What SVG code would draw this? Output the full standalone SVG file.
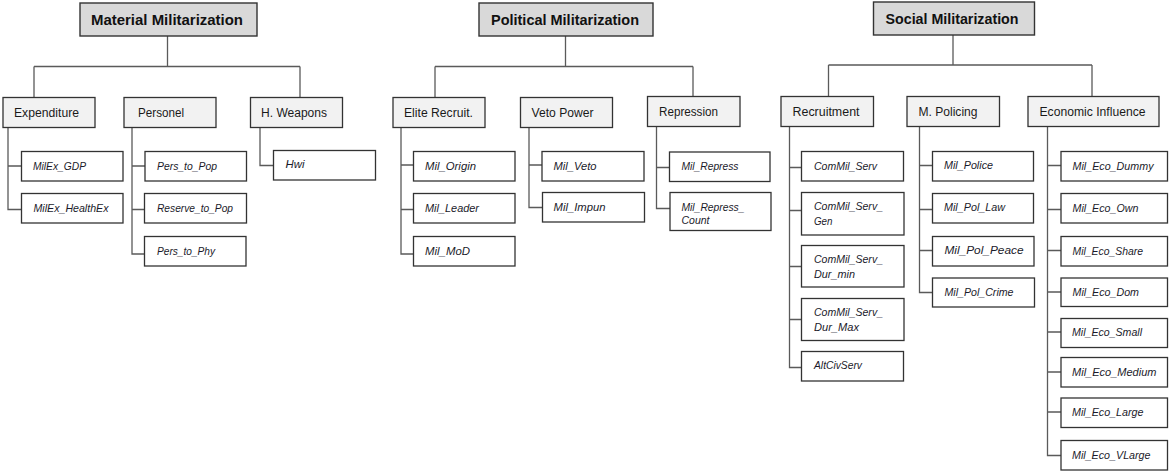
<svg xmlns="http://www.w3.org/2000/svg" width="1169" height="471" viewBox="0 0 1169 471">
<style>
.h rect{fill:#d9d9d9;stroke:#333;stroke-width:1.4}
.m rect{fill:#f2f2f2;stroke:#333;stroke-width:1.3}
.l rect{fill:#fff;stroke:#333;stroke-width:1.3}
.h text{font-family:"Liberation Sans",Arial,sans-serif;font-weight:bold;font-size:14.5px;fill:#111;text-anchor:middle}
.m text{font-family:"Liberation Sans",Arial,sans-serif;font-size:12.5px;fill:#1a1a1a}
.l text{font-family:"Liberation Sans",Arial,sans-serif;font-style:italic;font-size:10.5px;fill:#1a1a2a}
#connectors path{fill:none;stroke:#5a5a5a;stroke-width:1.3}
</style>
<rect width="1169" height="471" fill="#fff"/>
<g id="connectors">
<path d="M167.5 36V66.5M34 66.5H300M34 66.5V97.5M300 66.5V97.5"/>
<path d="M565.5 36V66.5M435 66.5H693M435 66.5V97.5M693 66.5V96.5"/>
<path d="M953 35V65M828.5 65H1092M828.5 65V96.5M1092 65V96.5"/>
<path d="M8 127.5V209.5H21.5M8 166H21.5"/>
<path d="M132 127.5V254H144.5M132 166H145M132 209.5H144.5"/>
<path d="M260 127.5V165.5H273.5"/>
<path d="M401 127.5V254H413.5M401 165H413.5M401 209.5H413.5"/>
<path d="M529 127.5V207.5H542.5M529 165H542"/>
<path d="M656.5 126.5V208.5H670M656.5 167.5H669.5"/>
<path d="M789.5 126.5V367.5H801.5M789.5 167.5H801.5M789.5 210.5H801.5M789.5 266.5H801.5M789.5 319.5H801.5"/>
<path d="M919.5 126.5V292.5H932.5M919.5 165.5H932.5M919.5 209.5H932.5M919.5 250.5H932.5"/>
<path d="M1047.5 126.5V455.5H1061M1047.5 165.5H1061M1047.5 209.5H1061M1047.5 250.5H1061M1047.5 292H1061M1047.5 332H1061M1047.5 372H1061M1047.5 412H1061"/>
</g>
<g id="material" class="h"><rect x="80" y="3" width="177" height="33"/><text x="167" y="25" textLength="152" lengthAdjust="spacingAndGlyphs">Material Militarization</text></g>
<g id="political" class="h"><rect x="479" y="3" width="174" height="33"/><text x="565" y="25" textLength="148" lengthAdjust="spacingAndGlyphs">Political Militarization</text></g>
<g id="social" class="h"><rect x="873.5" y="2" width="161" height="33"/><text x="952" y="24" textLength="133" lengthAdjust="spacingAndGlyphs">Social Militarization</text></g>

<g id="expenditure" class="m"><rect x="3" y="97.5" width="92" height="30"/><text x="14" y="117" textLength="65" lengthAdjust="spacingAndGlyphs">Expenditure</text></g>
<g id="personel" class="m"><rect x="124" y="97.5" width="92" height="30"/><text x="138" y="117" textLength="46" lengthAdjust="spacingAndGlyphs">Personel</text></g>
<g id="hweapons" class="m"><rect x="250.5" y="97.5" width="92" height="30"/><text x="261" y="117" textLength="66" lengthAdjust="spacingAndGlyphs">H. Weapons</text></g>
<g id="elite" class="m"><rect x="393" y="97.5" width="92" height="30"/><text x="404" y="117" textLength="69" lengthAdjust="spacingAndGlyphs">Elite Recruit.</text></g>
<g id="veto" class="m"><rect x="520.5" y="97.5" width="92" height="30"/><text x="531.5" y="117" textLength="62" lengthAdjust="spacingAndGlyphs">Veto Power</text></g>
<g id="repression" class="m"><rect x="647.5" y="96.5" width="92.5" height="30"/><text x="659" y="116" textLength="59" lengthAdjust="spacingAndGlyphs">Repression</text></g>
<g id="recruitment" class="m"><rect x="781" y="96.5" width="92.5" height="30"/><text x="792.5" y="116" textLength="67" lengthAdjust="spacingAndGlyphs">Recruitment</text></g>
<g id="policing" class="m"><rect x="907" y="96.5" width="92.5" height="30"/><text x="918.5" y="116" textLength="59" lengthAdjust="spacingAndGlyphs">M. Policing</text></g>
<g id="economic" class="m"><rect x="1028" y="96.5" width="131" height="30"/><text x="1039.5" y="116" textLength="106" lengthAdjust="spacingAndGlyphs">Economic Influence</text></g>

<g id="milex_gdp" class="l"><rect x="21.5" y="151.5" width="101.5" height="29.5"/><text x="33" y="169.5" textLength="53" lengthAdjust="spacingAndGlyphs">MilEx_GDP</text></g>
<g id="milex_healthex" class="l"><rect x="21.5" y="193.5" width="101.5" height="29.5"/><text x="33.5" y="211.5" textLength="75" lengthAdjust="spacingAndGlyphs">MilEx_HealthEx</text></g>
<g id="pers_to_pop" class="l"><rect x="145" y="151.5" width="101.5" height="29.5"/><text x="157" y="169.5" textLength="60" lengthAdjust="spacingAndGlyphs">Pers_to_Pop</text></g>
<g id="reserve_to_pop" class="l"><rect x="144.5" y="193.5" width="102" height="29.5"/><text x="157" y="211.5" textLength="76" lengthAdjust="spacingAndGlyphs">Reserve_to_Pop</text></g>
<g id="pers_to_phy" class="l"><rect x="144.5" y="236.5" width="101.5" height="29.5"/><text x="157" y="254.5" textLength="58" lengthAdjust="spacingAndGlyphs">Pers_to_Phy</text></g>
<g id="hwi" class="l"><rect x="273.5" y="150.5" width="102" height="29.5"/><text x="285.5" y="168" textLength="19" lengthAdjust="spacingAndGlyphs">Hwi</text></g>

<g id="mil_origin" class="l"><rect x="413.5" y="151.5" width="101.5" height="29.5"/><text x="425" y="169.5" textLength="51" lengthAdjust="spacingAndGlyphs">Mil_Origin</text></g>
<g id="mil_leader" class="l"><rect x="413.5" y="193.5" width="101.5" height="29.5"/><text x="425" y="211.5" textLength="54" lengthAdjust="spacingAndGlyphs">Mil_Leader</text></g>
<g id="mil_mod" class="l"><rect x="413.5" y="236.5" width="101.5" height="29.5"/><text x="425" y="254.5" textLength="45" lengthAdjust="spacingAndGlyphs">Mil_MoD</text></g>
<g id="mil_veto" class="l"><rect x="542" y="151.5" width="102" height="29.5"/><text x="553.5" y="169.5" textLength="43" lengthAdjust="spacingAndGlyphs">Mil_Veto</text></g>
<g id="mil_impun" class="l"><rect x="542.5" y="192.5" width="102" height="29.5"/><text x="553.5" y="211" textLength="52" lengthAdjust="spacingAndGlyphs">Mil_Impun</text></g>
<g id="mil_repress" class="l"><rect x="669.5" y="152" width="100.5" height="29.5"/><text x="681.5" y="169.5" textLength="57" lengthAdjust="spacingAndGlyphs">Mil_Repress</text></g>
<g id="mil_repress_count" class="l"><rect x="670" y="192.5" width="101" height="38"/><text x="681.5" y="210.5" textLength="63" lengthAdjust="spacingAndGlyphs">Mil_Repress_</text><text x="681.5" y="224" textLength="28" lengthAdjust="spacingAndGlyphs">Count</text></g>

<g id="commil_serv" class="l"><rect x="801.5" y="151.5" width="102" height="29.5"/><text x="814" y="169.5" textLength="63" lengthAdjust="spacingAndGlyphs">ComMil_Serv</text></g>
<g id="commil_serv_gen" class="l"><rect x="801.5" y="192.5" width="102.5" height="42.5"/><text x="814" y="210" textLength="69" lengthAdjust="spacingAndGlyphs">ComMil_Serv_</text><text x="814" y="224.5" textLength="18.5" lengthAdjust="spacingAndGlyphs">Gen</text></g>
<g id="commil_serv_dur_min" class="l"><rect x="801.5" y="245.5" width="102.5" height="41.5"/><text x="814" y="263" textLength="69" lengthAdjust="spacingAndGlyphs">ComMil_Serv_</text><text x="814" y="277.5" textLength="41" lengthAdjust="spacingAndGlyphs">Dur_min</text></g>
<g id="commil_serv_dur_max" class="l"><rect x="801.5" y="298.5" width="102.5" height="42"/><text x="814" y="316" textLength="69" lengthAdjust="spacingAndGlyphs">ComMil_Serv_</text><text x="814" y="330.5" textLength="45" lengthAdjust="spacingAndGlyphs">Dur_Max</text></g>
<g id="altcivserv" class="l"><rect x="801.5" y="351.5" width="102" height="29.5"/><text x="814" y="369" textLength="48" lengthAdjust="spacingAndGlyphs">AltCivServ</text></g>

<g id="mil_police" class="l"><rect x="932.5" y="151.5" width="101" height="29.5"/><text x="944" y="169" textLength="49" lengthAdjust="spacingAndGlyphs">Mil_Police</text></g>
<g id="mil_pol_law" class="l"><rect x="932.5" y="193.5" width="101" height="29.5"/><text x="944" y="211" textLength="61" lengthAdjust="spacingAndGlyphs">Mil_Pol_Law</text></g>
<g id="mil_pol_peace" class="l"><rect x="932.5" y="236.5" width="101.5" height="29.5"/><text x="944.5" y="254" textLength="79" lengthAdjust="spacingAndGlyphs">Mil_Pol_Peace</text></g>
<g id="mil_pol_crime" class="l"><rect x="932.5" y="278" width="102" height="29"/><text x="944.5" y="295.5" textLength="69" lengthAdjust="spacingAndGlyphs">Mil_Pol_Crime</text></g>

<g id="mil_eco_dummy" class="l"><rect x="1061" y="151.5" width="106.5" height="29.5"/><text x="1072.5" y="169.5" textLength="81" lengthAdjust="spacingAndGlyphs">Mil_Eco_Dummy</text></g>
<g id="mil_eco_own" class="l"><rect x="1061" y="193.5" width="106.5" height="29.5"/><text x="1072.5" y="211.5" textLength="66" lengthAdjust="spacingAndGlyphs">Mil_Eco_Own</text></g>
<g id="mil_eco_share" class="l"><rect x="1061" y="236.5" width="106.5" height="29.5"/><text x="1072.5" y="254.5" textLength="70.5" lengthAdjust="spacingAndGlyphs">Mil_Eco_Share</text></g>
<g id="mil_eco_dom" class="l"><rect x="1061" y="278" width="106.5" height="28.5"/><text x="1072.5" y="295.5" textLength="66.5" lengthAdjust="spacingAndGlyphs">Mil_Eco_Dom</text></g>
<g id="mil_eco_small" class="l"><rect x="1061" y="318.5" width="106.5" height="29"/><text x="1072" y="336" textLength="70" lengthAdjust="spacingAndGlyphs">Mil_Eco_Small</text></g>
<g id="mil_eco_medium" class="l"><rect x="1061" y="357.5" width="106.5" height="29.5"/><text x="1072" y="375.5" textLength="84.5" lengthAdjust="spacingAndGlyphs">Mil_Eco_Medium</text></g>
<g id="mil_eco_large" class="l"><rect x="1061" y="398" width="106.5" height="29.5"/><text x="1072" y="416" textLength="71.5" lengthAdjust="spacingAndGlyphs">Mil_Eco_Large</text></g>
<g id="mil_eco_vlarge" class="l"><rect x="1061" y="440.5" width="106.5" height="29.5"/><text x="1072" y="458.5" textLength="78.5" lengthAdjust="spacingAndGlyphs">Mil_Eco_VLarge</text></g>
</svg>
